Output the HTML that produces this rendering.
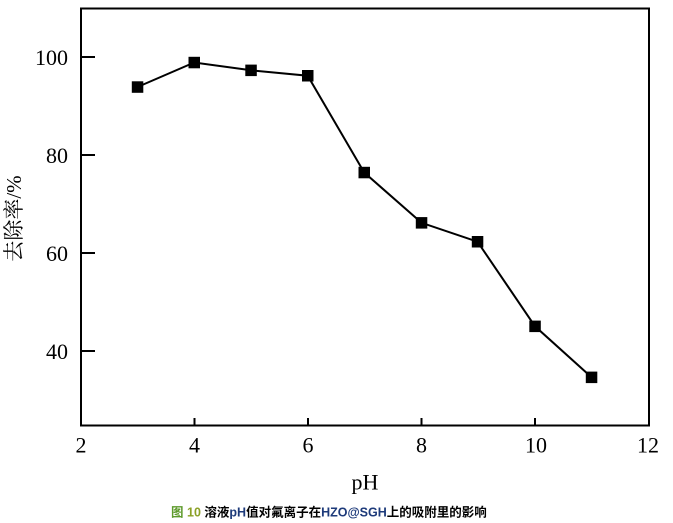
<!DOCTYPE html>
<html><head><meta charset="utf-8"><style>
html,body{margin:0;padding:0;background:#fff;}
svg{display:block;}
</style></head><body>
<svg width="673" height="523" viewBox="0 0 673 523" xmlns="http://www.w3.org/2000/svg">
<rect width="673" height="523" fill="#fff"/>
<g stroke="#000" stroke-width="2" fill="none">
<rect x="81" y="8.5" width="568" height="417"/>
<line x1="81" y1="57" x2="95" y2="57"/>
<line x1="81" y1="155" x2="95" y2="155"/>
<line x1="81" y1="253" x2="95" y2="253"/>
<line x1="81" y1="351" x2="95" y2="351"/>
<line x1="194.5" y1="426" x2="194.5" y2="418"/>
<line x1="308" y1="426" x2="308" y2="418"/>
<line x1="421.5" y1="426" x2="421.5" y2="418"/>
<line x1="535" y1="426" x2="535" y2="418"/>
<polyline points="137.5,87 194.2,62.5 251,70.3 307.7,75.7 364.2,172.5 421.5,222.8 477.5,241.7 535,326.3 591.5,377.3"/>
</g>
<g fill="#000">
<rect x="131.8" y="81.3" width="11.5" height="11.5"/>
<rect x="188.5" y="56.8" width="11.5" height="11.5"/>
<rect x="245.3" y="64.6" width="11.5" height="11.5"/>
<rect x="302" y="70" width="11.5" height="11.5"/>
<rect x="358.5" y="166.8" width="11.5" height="11.5"/>
<rect x="415.8" y="217.1" width="11.5" height="11.5"/>
<rect x="471.8" y="236" width="11.5" height="11.5"/>
<rect x="529.3" y="320.6" width="11.5" height="11.5"/>
<rect x="585.8" y="371.6" width="11.5" height="11.5"/>
</g>
<g font-family="'Liberation Serif', serif" font-size="22" fill="#000">
<g text-anchor="end">
<text x="68" y="65">100</text>
<text x="68" y="163">80</text>
<text x="68" y="261">60</text>
<text x="68" y="359">40</text>
</g>
<g text-anchor="middle">
<text x="81" y="452.5">2</text>
<text x="194.5" y="452.5">4</text>
<text x="308" y="452.5">6</text>
<text x="421.5" y="452.5">8</text>
<text x="536" y="452.5">10</text>
<text x="648" y="452.5">12</text>
<text x="365" y="489.5">pH</text>
</g>
</g>
<text transform="translate(21,218.5) rotate(-90)" text-anchor="middle" font-family="'Liberation Serif','Noto Serif CJK SC', serif" font-size="21" fill="#000">去除率/%</text>
<text x="171" y="516.5" font-family="'Liberation Sans','Noto Sans CJK SC', sans-serif" font-size="12.5" font-weight="bold" fill="#000"><tspan fill="#5e9a2c">图</tspan><tspan fill="#8ba026"> 10 </tspan>溶液<tspan fill="#1d3a7a">pH</tspan>值对氟离子在<tspan fill="#1d3a7a">HZO@SGH</tspan>上的吸附里的影响</text>
</svg>
</body></html>
